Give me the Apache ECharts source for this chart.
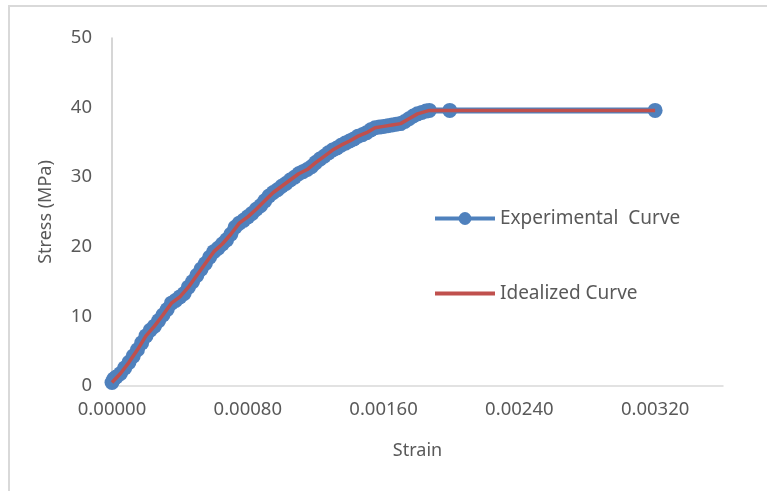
<!DOCTYPE html>
<html>
<head>
<meta charset="utf-8">
<script src="https://cdn.jsdelivr.net/npm/echarts@6/dist/echarts.min.js"></script>
<style>
html,body{margin:0;padding:0;background:#fff;overflow:hidden;}
#frame{position:absolute;left:8px;top:5px;width:820px;height:540px;border:2px solid #d9d9d9;box-sizing:border-box;}
#chart{position:absolute;left:0;top:0;width:767px;height:491px;}
</style>
</head>
<body>
<div id="frame"></div>
<div id="chart"></div>
<script>
// Experimental curve (strain, stress MPa)
const strainExp = [0.000000,0.000010,0.000025,0.000050,0.000075,0.000100,0.000125,0.000150,0.000175,0.000200,
  0.000225,0.000250,0.000275,0.000300,0.000325,0.000350,0.000375,0.000400,0.000425,0.000450,
  0.000475,0.000500,0.000525,0.000550,0.000575,0.000600,0.000625,0.000650,0.000675,0.000700,
  0.000725,0.000750,0.000775,0.000800,0.000825,0.000850,0.000875,0.000900,0.000925,0.000950,
  0.000975,0.001000,0.001025,0.001050,0.001075,0.001100,0.001125,0.001150,0.001175,0.001200,
  0.001225,0.001250,0.001275,0.001300,0.001325,0.001350,0.001375,0.001400,0.001425,0.001450,
  0.001475,0.001500,0.001525,0.001550,0.001575,0.001600,0.001625,0.001650,0.001675,0.001700,
  0.001725,0.001750,0.001775,0.001800,0.001825,0.001850,0.001870,0.001990,0.003200];
const stressExp = [0.5,1.0,1.3,1.8,2.6,3.4,4.3,5.2,6.2,7.2,
  8.0,8.6,9.4,10.2,11.0,11.9,12.3,12.8,13.3,14.2,
  15.0,15.9,16.8,17.6,18.5,19.3,19.8,20.4,21.0,21.8,
  22.8,23.4,23.8,24.3,24.8,25.4,25.9,26.6,27.3,27.8,
  28.2,28.7,29.1,29.6,30.0,30.5,30.8,31.1,31.5,32.1,
  32.6,33.0,33.5,33.9,34.2,34.6,34.9,35.2,35.5,35.9,
  36.1,36.4,36.8,37.1,37.2,37.3,37.4,37.5,37.6,37.7,
  38.0,38.4,38.8,39.1,39.3,39.5,39.6,39.6,39.6];
// Idealized curve
const strainIdeal = [0,0.00005,0.0001,0.00015,0.0002,0.00025,0.0003,0.00035,0.0004,0.00045,
  0.0005,0.00055,0.0006,0.00065,0.0007,0.00075,0.0008,0.00085,0.0009,0.00095,
  0.001,0.00105,0.0011,0.00115,0.0012,0.00125,0.0013,0.00135,0.0014,0.00145,
  0.0015,0.00155,0.0016,0.00165,0.0017,0.00175,0.0018,0.00187,0.0032];
const stressIdeal = [0.5,1.8,3.4,5.2,7.2,8.6,10.2,11.9,12.8,14.2,
  15.9,17.6,19.3,20.4,21.8,23.4,24.3,25.4,26.6,27.8,
  28.7,29.6,30.5,31.1,32.1,33.0,33.9,34.6,35.2,35.9,
  36.4,37.1,37.3,37.5,37.7,38.4,39.1,39.6,39.6];
const xTicks = [0, 0.0008, 0.0016, 0.0024, 0.0032];
const seriesNames = ['Experimental  Curve', 'Idealized Curve'];

const expData = strainExp.map((x, i) => [x, stressExp[i]]);
const idealData = strainIdeal.map((x, i) => [x, stressIdeal[i]]);

const FONT = '"Noto Sans", sans-serif';
const chart = echarts.init(document.getElementById('chart'), null, {renderer: 'canvas'});
chart.setOption({
  animation: false,
  backgroundColor: 'transparent',
  grid: {left: 112, right: 44, top: 38, bottom: 105},
  legend: {
    orient: 'vertical',
    left: 428, top: 204,
    itemWidth: 60, itemHeight: 16, itemGap: 56,
    textStyle: {fontFamily: FONT, fontSize: 19, color: '#595959'},
    lineStyle: {width: 4},
    data: [
      {name: seriesNames[0]},
      {name: seriesNames[1], itemStyle: {opacity: 0}, lineStyle: {width: 4, color: '#c0504d', opacity: 1}}
    ]
  },
  xAxis: {
    type: 'value', min: 0, max: 0.0036, interval: 0.0008,
    name: 'Strain', nameLocation: 'middle', nameGap: 56,
    nameTextStyle: {fontFamily: FONT, fontSize: 18, color: '#595959'},
    axisLine: {show: true, lineStyle: {color: '#d9d9d9', width: 1.5}},
    axisTick: {show: false},
    splitLine: {show: false},
    axisLabel: {
      fontFamily: FONT, fontSize: 18.5, color: '#595959', margin: 14,
      formatter: v => (xTicks.some(t => Math.abs(t - v) < 1e-9) ? v.toFixed(5) : '')
    }
  },
  yAxis: {
    type: 'value', min: 0, max: 50, interval: 10,
    name: 'Stress (MPa)', nameLocation: 'middle', nameGap: 57, nameRotate: 90,
    nameTextStyle: {fontFamily: FONT, fontSize: 18, color: '#595959'},
    axisLine: {show: true, lineStyle: {color: '#c8c8c8', width: 1.5}},
    axisTick: {show: false},
    splitLine: {show: false},
    axisLabel: {fontFamily: FONT, fontSize: 18.5, color: '#595959', margin: 20}
  },
  series: [
    {
      name: seriesNames[0], type: 'line', data: expData, z: 2,
      symbol: 'circle', symbolSize: 15, showSymbol: true,
      itemStyle: {color: '#4f81bd'},
      lineStyle: {color: '#4f81bd', width: 6}
    },
    {
      name: seriesNames[1], type: 'line', data: idealData, z: 5,
      symbol: 'none',
      itemStyle: {color: '#c0504d'},
      lineStyle: {color: '#c0504d', width: 3.5}
    }
  ]
});
</script>
</body>
</html>
